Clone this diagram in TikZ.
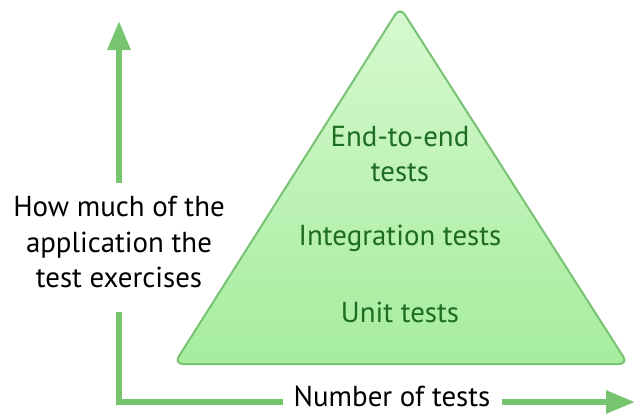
\documentclass[tikz,border=0pt]{standalone}
\usepackage{fontspec}
\setmainfont{PT Sans}
\usetikzlibrary{arrows.meta}
\usetikzlibrary{calc}

\definecolor{axisgreen}{HTML}{77C46F}
\definecolor{pyrtop}{HTML}{D6F9CF}
\definecolor{pyrbottom}{HTML}{A6EC9E}
\definecolor{pyredge}{HTML}{77C273}
\definecolor{labelgreen}{HTML}{1E6B22}

\tikzset{
	axis/.style={draw=axisgreen,line width=6bp},
	axistip/.style={axis,-{Triangle[length=29bp,width=22bp]}},
	layer/.style={text=labelgreen,font=\fontsize{29}{35.5}\selectfont,align=center},
	axislabel/.style={text=black,font=\fontsize{29}{35.5}\selectfont,align=center,inner sep=0pt}
}

\begin{document}
\begin{tikzpicture}[x=1bp,y=-1bp]
	\useasboundingbox (0,0) rectangle (635,414);
	% pyramid
	\coordinate (apex) at (400,7);
	\coordinate (bl) at (174,364);
	\coordinate (br) at (628,364);
	\shade[top color=pyrtop,bottom color=pyrbottom,draw=pyredge,line width=2bp,rounded corners=9bp]
		(apex) -- (br) -- (bl) -- cycle;
	\node[layer] (e2e) at (400,154) {End-to-end\\tests};
	\node[layer] (integ) at (400,238) {Integration tests};
	\node[layer] (unit) at (400,312) {Unit tests};
	% axes
	\node[axislabel] (ylab) at (119,242) {How much of the\\application the\\test exercises};
	\node[axislabel] (xlab) at (392,396) {Number of tests};
	\coordinate (yfrom) at (119,183);
	\coordinate (yto) at (119,21);
	\coordinate (lfrom) at (119,312);
	\coordinate (lto) at (283,402);
	\coordinate (xfrom) at (502,402);
	\coordinate (xto) at (635,402);
	\draw[axistip] (yfrom) -- (yto);
	\draw[axis] (lfrom) |- (lto);
	\draw[axistip] (xfrom) -- (xto);
\end{tikzpicture}
\end{document}
